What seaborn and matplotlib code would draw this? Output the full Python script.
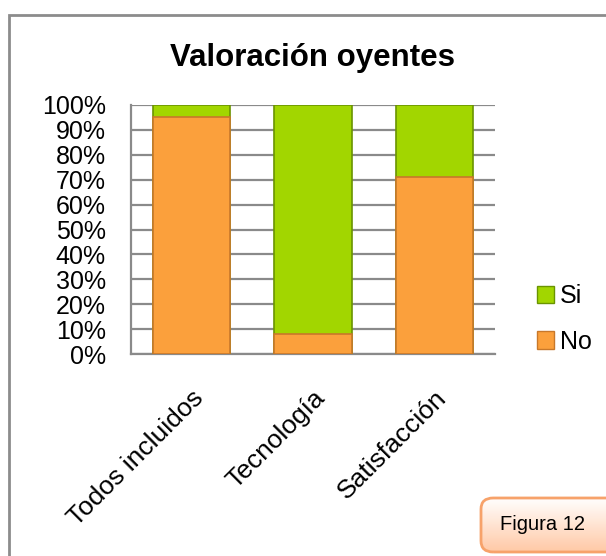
import numpy as np
import pandas as pd
import matplotlib
matplotlib.use('Agg')
import matplotlib.pyplot as plt
from matplotlib.patches import Patch, FancyBboxPatch, Rectangle
import seaborn as sns

# data (percent of listeners)
categories = ['Todos incluidos', 'Tecnología', 'Satisfacción']
no_values = [95, 8, 71]
si_values = [5, 92, 29]
y_ticks = list(range(0, 101, 10))

sns.set_style("white")
plt.rcParams['font.family'] = ['Liberation Sans', 'DejaVu Sans']
plt.rcParams['text.color'] = 'black'
plt.rcParams['xtick.color'] = 'black'
plt.rcParams['ytick.color'] = 'black'

orange, orange_edge = '#FBA03C', '#C8782A'
green, green_edge = '#A2D600', '#6A9400'

fig = plt.figure(figsize=(6.06, 5.56), dpi=100)
ax = fig.add_axes([131/606, 1-354/556, 364/606, 249/556])

df = pd.DataFrame({'cat': categories, 'no': no_values,
                   'total': np.array(no_values) + np.array(si_values)})

# stacked 100% bars: full height in green, then the "No" part over it
sns.barplot(data=df, x='cat', y='total', color=green, edgecolor=green_edge,
            linewidth=1.2, width=0.64, saturation=1, ax=ax, zorder=3)
sns.barplot(data=df, x='cat', y='no', color=orange, edgecolor=orange_edge,
            linewidth=1.2, width=0.64, saturation=1, ax=ax, zorder=4)

ax.set_ylim(0, 100)
ax.set_xlim(-0.5, 2.5)
ax.set_yticks(y_ticks)
ax.set_yticklabels([f'{v}%' for v in y_ticks], fontsize=18)
ax.set_xticks(range(len(categories)))
ax.set_xticklabels(categories, rotation=45, ha='right', rotation_mode='anchor', fontsize=19)
ax.tick_params(axis='y', length=0, pad=18)
ax.tick_params(axis='x', length=0, pad=23)
ax.set_xlabel('')
ax.set_ylabel('')
ax.yaxis.grid(True, color='#8a8a8a', linewidth=1.6, zorder=1)
ax.set_axisbelow(True)
for side in ['top', 'right']:
    ax.spines[side].set_visible(False)
for side in ['left', 'bottom']:
    ax.spines[side].set_color('#8a8a8a')
    ax.spines[side].set_linewidth(1.6)

handles = [Patch(facecolor=green, edgecolor=green_edge, label='Si'),
           Patch(facecolor=orange, edgecolor=orange_edge, label='No')]
fig.legend(handles=handles, loc='center left', bbox_to_anchor=(514/606, 1-319/556),
           frameon=False, fontsize=18, handlelength=0.7, handleheight=0.7,
           handletextpad=0.25, labelspacing=0.85)

fig.suptitle('Valoración oyentes', x=312/606, y=1-58/556, va='center',
             fontsize=22.5, fontweight='bold')

# outer chart frame
fig.patches.append(Rectangle((9/606, -0.1), 1.2, 1.1-15/556, transform=fig.transFigure,
                             fill=False, edgecolor='#8c8c8c', linewidth=2))

# "Figura 12" caption box with a soft vertical gradient
box = FancyBboxPatch((481/606, 1-552/556), 140/606, 54/556,
                     boxstyle='round,pad=0,rounding_size=0.02',
                     transform=fig.transFigure, facecolor='none',
                     edgecolor='#F7A26A', linewidth=2, zorder=3)
gax = fig.add_axes([0, 0, 1, 1], zorder=-1)
gax.set_axis_off()
grad = np.linspace(0, 1, 64).reshape(-1, 1)
img = gax.imshow(grad, cmap=matplotlib.colors.LinearSegmentedColormap.from_list(
    'peach', ['#FFFFFF', '#FFC9A6']), aspect='auto',
    extent=[481/606, 1, 1-552/556, 1-498/556], transform=fig.transFigure)
gax.set_xlim(0, 1); gax.set_ylim(0, 1)
img.set_clip_path(box)
fig.patches.append(box)
fig.text(542/606, 1-525/556, 'Figura 12', ha='center', va='center', fontsize=14.5)

fig.savefig('out.png', dpi=100)
